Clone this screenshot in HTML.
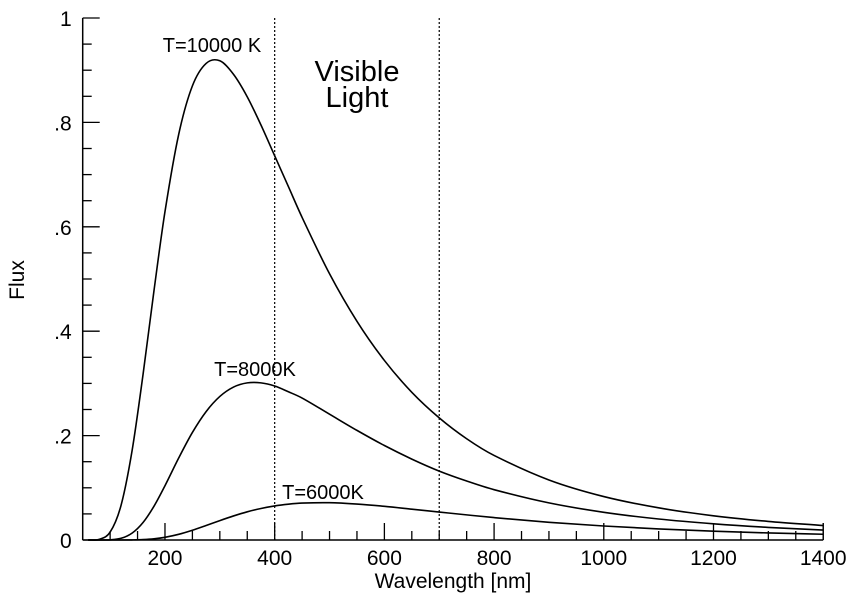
<!DOCTYPE html>
<html><head><meta charset="utf-8"><style>
body{margin:0;background:#fff;}
svg{display:block;font-family:"Liberation Sans",Arial,sans-serif;}
</style></head><body>
<svg id="chart" width="866" height="600" viewBox="0 0 866 600">
<g id="axes"></g>
<g id="curves"></g>
<text x="24" y="280" font-size="21" text-anchor="middle" transform="rotate(-90 24 280)">Flux</text>
<text x="453" y="588" font-size="21" text-anchor="middle">Wavelength [nm]</text>
<text x="357" y="81" font-size="29" text-anchor="middle">Visible</text>
<text x="357" y="107" font-size="29" text-anchor="middle">Light</text>
<text x="212" y="52" font-size="20" text-anchor="middle">T=10000 K</text>
<text x="255" y="376" font-size="20" text-anchor="middle">T=8000K</text>
<text x="323" y="499" font-size="20" text-anchor="middle">T=6000K</text>
</svg>
<script>
const wavelengths=[60,80,100,120,140,160,180,200,225,250,275,300,325,350,375,400,425,450,500,550,600,650,700,750,800,900,1000,1100,1200,1300,1400];
const flux10000=[0.00001,0.0013,0.0151,0.0667,0.171,0.317,0.478,0.629,0.777,0.870,0.913,0.918,0.892,0.849,0.795,0.736,0.677,0.618,0.510,0.419,0.344,0.283,0.234,0.194,0.162,0.115,0.0832,0.0616,0.0464,0.0356,0.0277];
const flux8000=[0,0.00001,0.0004,0.0033,0.0131,0.0335,0.0648,0.104,0.157,0.206,0.246,0.275,0.293,0.301,0.301,0.295,0.284,0.272,0.241,0.210,0.181,0.155,0.132,0.113,0.0964,0.0711,0.0531,0.0402,0.031,0.0241,0.019];
const flux6000=[0,0,0,0,0.0002,0.0008,0.0023,0.0052,0.0109,0.0187,0.0278,0.0372,0.0461,0.054,0.0604,0.0653,0.0686,0.0707,0.0714,0.0688,0.0645,0.0591,0.0536,0.0481,0.0429,0.0339,0.0268,0.0212,0.0169,0.0135,0.011];
const xTicks=[200,400,600,800,1000,1200,1400];
const yTicks=[0,0.2,0.4,0.6,0.8,1];
const yTickLabels=["0",".2",".4",".6",".8","1"];
const visibleBounds=[400,700];

const X0=82.7,X1=823.2,XMIN=50,XMAX=1400,Y0=540,Y1=18;
const sx=v=>X0+(v-XMIN)*(X1-X0)/(XMAX-XMIN);
const sy=v=>Y0-(v)*(Y0-Y1);
const NS="http://www.w3.org/2000/svg";
const axes=document.getElementById('axes'),curves=document.getElementById('curves');
function mk(tag,attrs,parent){const e=document.createElementNS(NS,tag);for(const k in attrs)e.setAttribute(k,attrs[k]);parent.appendChild(e);return e;}

let l=mk('line',{x1:X0,y1:Y0,x2:X1,y2:Y0,stroke:'#000','stroke-width':1.5},axes);


l=mk('line',{x1:X0,y1:Y0,x2:X0,y2:Y1,stroke:'#000','stroke-width':1.5},axes);



for(let v=100;v<=XMAX;v+=50){
  const major=xTicks.includes(v);
  const t=mk('line',{x1:sx(v),y1:Y0,x2:sx(v),y2:Y0-(major?17:9),stroke:'#000','stroke-width':1.3},axes);
  
  
}
xTicks.forEach(v=>{
  const t=mk('text',{x:sx(v),y:Y0+25,'font-size':21,'text-anchor':'middle'},axes);t.textContent=String(v);
  
  
});
for(let i=0;i<=20;i++){
  const v=i*0.05,major=i%4===0;
  const t=mk('line',{x1:X0,y1:sy(v),x2:X0+(major?17:9),y2:sy(v),stroke:'#000','stroke-width':1.3},axes);
  
  
}
yTicks.forEach((v,i)=>{
  const t=mk('text',{x:X0-11,y:sy(v)+8,'font-size':21,'text-anchor':'end'},axes);t.textContent=yTickLabels[i];
  
  
});
visibleBounds.forEach(v=>{
  const t=mk('line',{x1:sx(v),y1:Y0,x2:sx(v),y2:Y1,stroke:'#000','stroke-width':1.2,'stroke-dasharray':'2,2'},axes);
  
  
});

function pathFor(ys){
  const p=wavelengths.map((w,i)=>[sx(w),sy(ys[i])]);
  let d='M'+p[0][0]+','+p[0][1];
  for(let i=0;i<p.length-1;i++){
    const a=p[Math.max(0,i-1)],b=p[i],c=p[i+1],e=p[Math.min(p.length-1,i+2)];
    const h=c[0]-b[0];
    const m1=(c[1]-a[1])/(c[0]-a[0]||1),m2=(e[1]-b[1])/(e[0]-b[0]||1);
    const c1=[b[0]+h/3,b[1]+m1*h/3],c2=[c[0]-h/3,c[1]-m2*h/3];
    d+=' C'+c1+' '+c2+' '+c;
  }
  return d;
}
[[flux10000,'curve-10000k'],[flux8000,'curve-8000k'],[flux6000,'curve-6000k']].forEach(([ys,n])=>{
  const p=mk('path',{d:pathFor(ys),fill:'none',stroke:'#000','stroke-width':1.6},curves);
  
  
});
const end=mk('line',{x1:X1,y1:Y0,x2:X1,y2:Y0-17,stroke:'#000','stroke-width':1.3},axes);


</script>
</body></html>
